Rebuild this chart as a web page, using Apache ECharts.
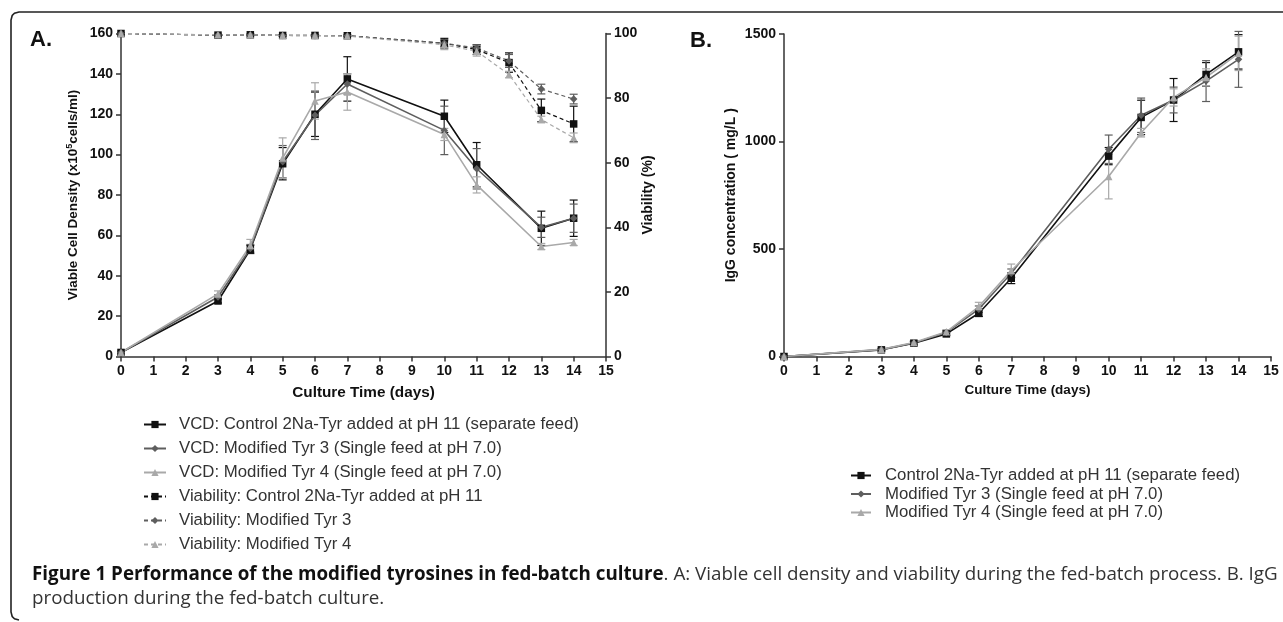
<!DOCTYPE html>
<html>
<head>
<meta charset="utf-8">
<script src="https://cdn.jsdelivr.net/npm/echarts@6/dist/echarts.min.js"></script>
<style>
html,body{margin:0;padding:0;background:#fff;}
#chart{width:1283px;height:622px;}
</style>
</head>
<body>
<div id="chart"></div>
<script>
// ---- Data ----
const dayTicks = [0,1,2,3,4,5,6,7,8,9,10,11,12,13,14,15];
const vcdDays = [0, 3, 4, 5, 6, 7, 10, 11, 13, 14];
const vcdControl = [2, 27.5, 53, 95.5, 120, 137.5, 119, 95, 63.5, 68.5];
const vcdTyr3    = [2, 29.5, 53.5, 96.5, 119.5, 135, 112, 93, 64, 68.5];
const vcdTyr4    = [2, 31, 55, 98.3, 126.6, 131, 110, 85, 54.5, 56.5];
const vcdControlSd = [0.5, 1, 2, 8, 11, 11, 8, 11, 8.5, 9];
const vcdTyr3Sd    = [0.5, 1, 2, 8, 12, 5, 12, 10, 5, 7];
const vcdTyr4Sd    = [0.5, 1.5, 3, 10, 9, 9, 3, 4, 1.5, 1.5];

const viaDays = [0, 3, 4, 5, 6, 7, 10, 11, 12, 13, 14];
const viaControl = [100, 99.5, 99.6, 99.4, 99.4, 99.3, 97, 95, 91, 76.2, 72];
const viaTyr3    = [100, 99.5, 99.5, 99.4, 99.3, 99.3, 97, 95.5, 91.5, 82.8, 79.7];
const viaTyr4    = [100, 99.6, 99.6, 99.4, 99.4, 99.2, 96.5, 94.5, 87.3, 73.4, 67.7];
const viaControlSd = [0.2, 0.2, 0.2, 0.2, 0.2, 0.2, 1.5, 1.5, 3, 3.5, 5.5];
const viaTyr3Sd    = [0.2, 0.2, 0.2, 0.2, 0.2, 0.2, 1, 1, 2, 1.5, 1.5];
const viaTyr4Sd    = [0.2, 0.2, 0.2, 0.2, 0.2, 0.2, 1.5, 1.5, 1, 1, 1.5];

const iggDays = [0, 3, 4, 5, 6, 7, 10, 11, 12, 13, 14];
const iggControl = [0, 31, 62, 105, 201, 364, 932, 1112, 1193, 1312, 1417];
const iggTyr3    = [0, 32, 63, 112, 220, 387, 964, 1122, 1193, 1281, 1382];
const iggTyr4    = [0, 33, 65, 115, 232, 400, 837, 1041, 1205, 1298, 1410];
const iggControlSd = [0, 5, 8, 8, 15, 25, 40, 80, 100, 55, 80];
const iggTyr3Sd    = [0, 5, 8, 8, 15, 20, 66, 80, 60, 95, 130];
const iggTyr4Sd    = [0, 5, 8, 10, 20, 30, 104, 20, 40, 40, 80];

const vcdNames = ['VCD: Control 2Na-Tyr added at pH 11 (separate feed)','VCD: Modified Tyr 3 (Single feed at pH 7.0)','VCD: Modified Tyr 4 (Single feed at pH 7.0)'];
const viaNames = ['Viability: Control 2Na-Tyr added at pH 11','Viability: Modified Tyr 3','Viability: Modified Tyr 4'];
const iggNames = ['Control 2Na-Tyr added at pH 11 (separate feed)','Modified Tyr 3 (Single feed at pH 7.0)','Modified Tyr 4 (Single feed at pH 7.0)'];

// ---- Styling ----
const colors = ['#111111', '#5e5e5e', '#a9a9a9'];
const symbols = ['rect', 'diamond', 'triangle'];
const symSizes = [7.5, 7.5, 7.5];
const FONT = '"Liberation Sans", Arial, sans-serif';
const axisCol = '#333';

function pairs(xs, ys){ return xs.map((x,i)=>[x, ys[i]]); }
function errData(xs, ys, sd){ return xs.map((x,i)=>[x, ys[i]-sd[i], ys[i]+sd[i]]); }

function lineSeries(name, xi, yi, xs, ys, k, dashed){
  return {
    type:'line', name:name, xAxisIndex:xi, yAxisIndex:yi,
    data: pairs(xs, ys), symbol: symbols[k], symbolSize: symSizes[k],
    itemStyle:{color: colors[k]},
    lineStyle:{color: colors[k], width: dashed ? 1.2 : 1.6, type: dashed ? [4,3] : 'solid'},
    z: 3, animation:false
  };
}
function errSeries(xi, yi, xs, ys, sd, k){
  return {
    type:'custom', xAxisIndex:xi, yAxisIndex:yi, data: errData(xs, ys, sd),
    encode:{x:0, y:[1,2]}, z:2, silent:true, animation:false,
    renderItem: function(params, api){
      const x = api.value(0);
      const lo = api.coord([x, api.value(1)]);
      const hi = api.coord([x, api.value(2)]);
      const w = 4;
      const st = {stroke: colors[k], lineWidth: 1.2, fill:null};
      return {type:'group', children:[
        {type:'line', shape:{x1:lo[0], y1:lo[1], x2:hi[0], y2:hi[1]}, style:st},
        {type:'line', shape:{x1:hi[0]-w, y1:hi[1], x2:hi[0]+w, y2:hi[1]}, style:st},
        {type:'line', shape:{x1:lo[0]-w, y1:lo[1], x2:lo[0]+w, y2:lo[1]}, style:st}
      ]};
    }
  };
}

function baseAxis(extra){
  return Object.assign({
    axisLine:{show:true, onZero:false, lineStyle:{color:axisCol, width:1.5}},
    axisTick:{show:true, length:5, lineStyle:{color:axisCol, width:1.5}},
    splitLine:{show:false},
    axisLabel:{color:'#111', fontWeight:'bold', fontSize:14, fontFamily:FONT, margin:8,
      formatter: function(v){ return String(v); }},
    nameTextStyle:{color:'#111', fontWeight:'bold', fontSize:14, fontFamily:FONT}
  }, extra);
}

const chart = echarts.init(document.getElementById('chart'), null, {renderer:'canvas'});

const series = [];
const vcdVals = [vcdControl, vcdTyr3, vcdTyr4], vcdSds = [vcdControlSd, vcdTyr3Sd, vcdTyr4Sd];
const viaVals = [viaControl, viaTyr3, viaTyr4], viaSds = [viaControlSd, viaTyr3Sd, viaTyr4Sd];
const iggVals = [iggControl, iggTyr3, iggTyr4], iggSds = [iggControlSd, iggTyr3Sd, iggTyr4Sd];
for (let k=0;k<3;k++){
  series.push(errSeries(0, 0, vcdDays, vcdVals[k], vcdSds[k], k));
  series.push(lineSeries(vcdNames[k], 0, 0, vcdDays, vcdVals[k], k, false));
}
for (let k=0;k<3;k++){
  series.push(errSeries(0, 1, viaDays, viaVals[k], viaSds[k], k));
  series.push(lineSeries(viaNames[k], 0, 1, viaDays, viaVals[k], k, true));
}
for (let k=0;k<3;k++){
  series.push(errSeries(1, 2, iggDays, iggVals[k], iggSds[k], k));
  series.push(lineSeries(iggNames[k], 1, 2, iggDays, iggVals[k], k, false));
}

const legendText = {color:'#333', fontSize:16.8, fontFamily:FONT};

chart.setOption({
  animation:false,
  grid:[
    {left:121, top:33.5, width:485, height:323, containLabel:false},
    {left:784, top:34, width:487, height:322.5, containLabel:false}
  ],
  xAxis:[
    baseAxis({type:'value', gridIndex:0, min:dayTicks[0], max:dayTicks[dayTicks.length-1], interval:1,
      name:'Culture Time (days)', nameLocation:'middle', nameGap:29,
      nameTextStyle:{color:'#111', fontWeight:'bold', fontSize:15.3, fontFamily:FONT}}),
    baseAxis({type:'value', gridIndex:1, min:dayTicks[0], max:dayTicks[dayTicks.length-1], interval:1,
      name:'Culture Time (days)', nameLocation:'middle', nameGap:27,
      nameTextStyle:{color:'#111', fontWeight:'bold', fontSize:13.5, fontFamily:FONT}})
  ],
  yAxis:[
    baseAxis({type:'value', gridIndex:0, min:0, max:160, interval:20, position:'left',
      name:'Viable Cell Density (x10{sup|5}cells/ml)', nameLocation:'middle', nameGap:40, nameRotate:90,
      nameTextStyle:{color:'#111', fontWeight:'bold', fontSize:13.5, fontFamily:FONT,
        rich:{sup:{fontSize:9, fontWeight:'bold', fontFamily:FONT, color:'#111', verticalAlign:'top', padding:[0,0,7,0]}}}}),
    baseAxis({type:'value', gridIndex:0, min:0, max:100, interval:20, position:'right',
      name:'Viability (%)', nameLocation:'middle', nameGap:34, nameRotate:90}),
    baseAxis({type:'value', gridIndex:1, min:0, max:1500, interval:500, position:'left',
      name:'IgG concentration ( mg/L )', nameLocation:'middle', nameGap:46, nameRotate:90,
      nameTextStyle:{color:'#111', fontWeight:'bold', fontSize:14, fontFamily:FONT}})
  ],
  legend:[
    {orient:'vertical', left:138, top:411, itemWidth:22, itemHeight:9, itemGap:7,
     data: vcdNames.concat(viaNames), textStyle:Object.assign({padding:[0,0,0,8]}, legendText), selectedMode:false},
    {orient:'vertical', left:845, top:462, itemWidth:20, itemHeight:9, itemGap:1.5,
     data: iggNames, textStyle:Object.assign({padding:[0,0,0,9]}, legendText), selectedMode:false}
  ],
  graphic:[
    {type:'polyline', shape:{points:[[1290,12],[19,12],[14.5,13.2],[12.2,15.5],[11,20],[11,612],[12.2,616.5],[14.5,618.8],[19,620]]},
     style:{stroke:'#222', lineWidth:1.6, fill:null}},
    {type:'text', left:30, top:29, style:{text:'A.', font:'bold 22px '+FONT, fill:'#111'}},
    {type:'text', left:690, top:30, style:{text:'B.', font:'bold 22px '+FONT, fill:'#111'}},
    {type:'text', left:32, top:565, style:{
      text:'{b|Figure 1 Performance of the modified tyrosines in fed-batch culture}{n|. A: Viable cell density and viability during the fed-batch process. B. IgG}\n{n|production during the fed-batch culture.}',
      rich:{
        b:{font:'bold 18.8px "Open Sans", sans-serif', fill:'#111', lineHeight:24},
        n:{font:'18.8px "Open Sans", sans-serif', fill:'#333', lineHeight:24}
      }}}
  ],
  series: series
});
</script>
</body>
</html>
